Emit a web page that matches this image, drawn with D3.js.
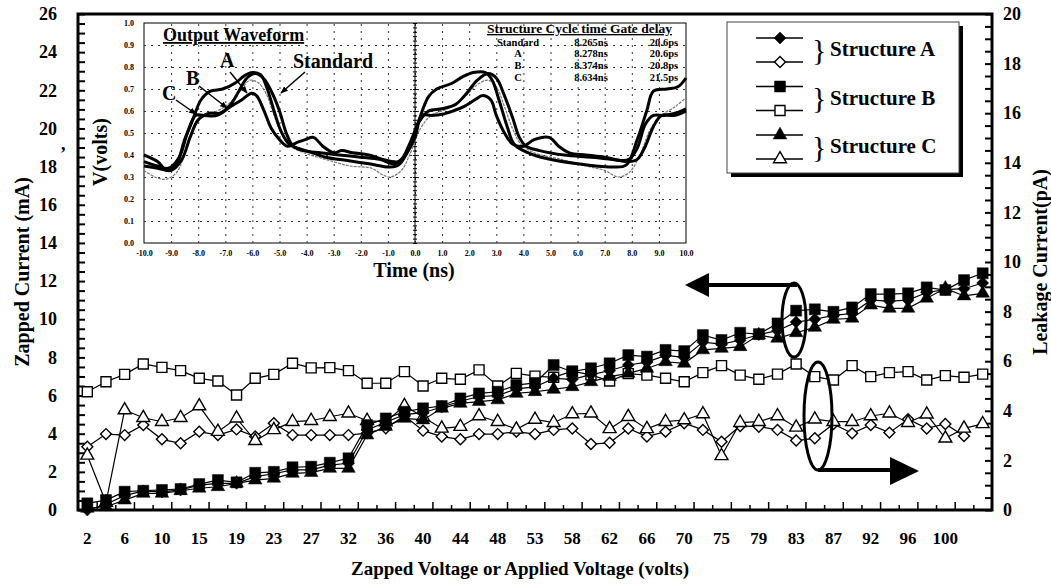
<!DOCTYPE html>
<html>
<head>
<meta charset="utf-8">
<script src="https://cdn.jsdelivr.net/npm/d3@7"></script>
<style>
  body { margin: 0; background: #fff; }
  text { font-family: "Liberation Serif", "Times New Roman", serif; font-weight: bold; fill: #000; }
</style>
</head>
<body>
<div id="chart"></div>
<script>
// categories on the x axis (zapped / applied voltage, volts)
const voltages = [2,4,6,8,10,13,15,17,19,21,23,25,27,30,32,34,36,38,40,42,44,46,48,51,53,56,58,60,62,64,66,68,70,73,75,77,79,81,83,85,87,90,92,94,96,98,100,102,104];
const tickLabels = [2,6,10,15,19,23,27,32,36,40,44,48,53,58,62,66,70,75,79,83,87,92,96,100];

// zapped current (mA) - filled markers, left axis
const zappedA = [0.0,0.3,0.75,1.0,0.95,1.05,1.3,1.4,1.4,1.75,1.9,2.1,2.1,2.35,2.45,4.2,4.6,5.0,5.1,5.4,5.7,5.95,6.0,6.35,6.45,6.9,6.85,7.1,7.3,7.6,7.75,8.1,8.0,8.8,8.7,8.9,9.2,9.4,9.85,10.0,10.2,10.3,11.0,10.95,11.0,11.4,11.55,11.6,11.9];
const zappedB = [0.35,0.52,0.96,1.01,1.05,1.1,1.36,1.57,1.45,1.95,2.0,2.24,2.27,2.48,2.71,4.45,4.8,5.15,5.33,5.45,5.85,6.11,6.2,6.55,6.66,7.6,7.25,7.43,7.69,8.12,8.04,8.39,8.33,9.17,8.91,9.29,9.22,9.78,10.45,10.52,10.39,10.62,11.32,11.32,11.36,11.67,11.53,12.05,12.41];
const zappedC = [0.09,0.17,0.52,0.87,0.87,1.01,1.14,1.22,1.4,1.57,1.66,1.92,1.96,2.18,2.18,3.93,4.37,4.8,4.72,5.33,5.59,5.68,5.77,6.11,6.2,6.32,6.46,6.72,6.99,7.16,7.42,7.77,7.69,8.39,8.47,8.56,9.17,9.0,9.29,9.57,9.99,10.05,10.74,10.57,10.57,11.1,11.62,11.22,11.36];

// leakage current (pA) - open markers, right axis
const leakA = [2.55,3.06,3.02,3.43,2.85,2.69,3.16,3.02,3.25,2.96,3.5,3.02,3.02,3.02,3.02,3.1,3.3,3.8,3.2,2.96,2.85,3.06,3.06,3.16,3.06,3.23,3.29,2.66,2.71,3.29,2.96,3.16,3.5,3.23,2.75,3.39,3.36,3.23,2.8,2.89,3.47,3.09,3.43,3.12,3.66,3.29,3.47,2.98,null];
const leakB = [4.77,5.17,5.47,5.89,5.75,5.62,5.31,5.2,4.64,5.31,5.47,5.92,5.73,5.74,5.62,5.11,5.11,5.58,5.0,5.31,5.27,5.65,5.0,5.51,5.4,5.35,5.6,5.45,5.2,5.5,5.44,5.31,5.17,5.54,5.82,5.44,5.27,5.48,5.89,5.38,5.24,5.82,5.38,5.54,5.58,5.24,5.42,5.35,5.48];
const leakC = [2.2,0.3,4.03,3.72,3.56,3.72,4.19,3.16,3.7,2.79,3.23,3.56,3.6,3.76,3.9,3.6,3.55,4.2,3.75,3.29,3.36,3.79,3.56,3.25,3.65,3.52,3.87,3.9,3.27,3.76,3.27,3.56,3.63,3.87,2.18,3.52,3.56,3.79,3.33,3.66,3.56,3.56,3.79,3.9,3.52,3.86,2.89,3.29,3.47];

const legendLabels = ["Structure A", "Structure B", "Structure C"];

// inset: output waveform, [time ns, volts]
const waveA = [[-10,0.40],[-9.5,0.37],[-9.15,0.33],[-8.8,0.36],[-8.5,0.47],[-8.2,0.56],[-7.9,0.65],[-7.55,0.69],[-7.1,0.70],[-6.6,0.73],[-6.3,0.76],[-6.0,0.775],[-5.7,0.765],[-5.45,0.70],[-5.2,0.60],[-4.95,0.51],[-4.65,0.45],[-4.3,0.43],[-3.9,0.415],[-3.3,0.39],[-2.5,0.375],[-1.7,0.36],[-0.9,0.345],[-0.6,0.355],[-0.25,0.42],[0.15,0.56],[0.5,0.665],[0.8,0.70],[1.35,0.725],[1.75,0.755],[2.15,0.775],[2.6,0.775],[2.85,0.74],[3.1,0.65],[3.4,0.53],[3.65,0.45],[4.0,0.42],[4.65,0.39],[6.0,0.36],[7.3,0.345],[7.8,0.355],[8.2,0.47],[8.55,0.60],[8.8,0.69],[9.3,0.70],[9.7,0.71],[10,0.75]];
const waveB = [[-10,0.37],[-9.5,0.35],[-9.1,0.34],[-8.7,0.39],[-8.4,0.50],[-8.1,0.58],[-7.8,0.58],[-7.3,0.58],[-6.8,0.62],[-6.4,0.65],[-6.05,0.68],[-5.85,0.67],[-5.6,0.61],[-5.3,0.52],[-5.0,0.47],[-4.7,0.44],[-4.3,0.46],[-4.05,0.47],[-3.75,0.48],[-3.4,0.44],[-3.0,0.41],[-2.7,0.42],[-2.3,0.41],[-1.7,0.40],[-1.2,0.38],[-0.6,0.37],[-0.3,0.41],[0.0,0.48],[0.25,0.58],[0.6,0.58],[1.0,0.585],[1.4,0.60],[1.8,0.62],[2.2,0.65],[2.5,0.67],[2.8,0.65],[3.0,0.58],[3.3,0.50],[3.6,0.45],[4.0,0.44],[4.4,0.47],[4.95,0.48],[5.3,0.44],[5.7,0.41],[6.3,0.40],[7.0,0.39],[7.6,0.375],[7.9,0.38],[8.2,0.43],[8.5,0.54],[8.8,0.58],[9.2,0.58],[9.6,0.59],[10,0.61]];
const waveStd = [[-10,0.35],[-9.5,0.34],[-9.0,0.33],[-8.6,0.38],[-8.3,0.48],[-8.0,0.56],[-7.6,0.59],[-7.2,0.59],[-6.8,0.63],[-6.5,0.69],[-6.2,0.75],[-5.9,0.77],[-5.6,0.75],[-5.3,0.69],[-5.0,0.60],[-4.75,0.50],[-4.5,0.44],[-4.1,0.42],[-3.5,0.41],[-2.8,0.40],[-2.0,0.39],[-1.3,0.38],[-0.8,0.36],[-0.5,0.38],[-0.2,0.45],[0.15,0.55],[0.5,0.60],[1.0,0.61],[1.5,0.63],[1.9,0.68],[2.3,0.74],[2.7,0.77],[3.0,0.75],[3.3,0.67],[3.6,0.57],[3.85,0.48],[4.1,0.44],[4.6,0.42],[5.5,0.40],[6.5,0.39],[7.3,0.38],[7.9,0.37],[8.2,0.38],[8.5,0.44],[8.8,0.53],[9.1,0.58],[9.6,0.58],[10,0.60]];
const waveC = [[-10,0.33],[-9.6,0.30],[-9.2,0.29],[-8.8,0.32],[-8.4,0.44],[-8.1,0.53],[-7.8,0.58],[-7.3,0.60],[-6.8,0.64],[-6.4,0.70],[-6.1,0.74],[-5.8,0.73],[-5.5,0.68],[-5.2,0.58],[-4.9,0.49],[-4.6,0.44],[-4.1,0.41],[-3.3,0.38],[-2.4,0.35],[-1.6,0.34],[-1.2,0.31],[-0.9,0.30],[-0.5,0.33],[-0.2,0.40],[0.2,0.52],[0.6,0.58],[1.2,0.61],[1.8,0.66],[2.3,0.72],[2.7,0.74],[3.0,0.71],[3.3,0.62],[3.6,0.52],[3.9,0.45],[4.4,0.41],[5.4,0.38],[6.3,0.35],[7.0,0.33],[7.5,0.30],[7.9,0.32],[8.3,0.40],[8.7,0.52],[9.1,0.58],[9.6,0.62],[10,0.66]];

const tableHeader = "Structure Cycle time Gate delay";
const tableRows = [["Standard","8.265ns","20.6ps"],["A","8.278ns","20.6ps"],["B","8.374ns","20.8ps"],["C","8.634ns","21.5ps"]];

// size of the page and margins of the main plot
const W = 1051, H = 585;
const margin = {top: 14, right: 59, bottom: 75, left: 78},
    width = W - margin.left - margin.right,
    height = H - margin.top - margin.bottom;

const svg = d3.select("#chart").append("svg")
    .attr("width", W)
    .attr("height", H);

svg.append("defs").append("marker")
    .attr("id", "head")
    .attr("viewBox", "0 0 10 10")
    .attr("refX", 9).attr("refY", 5)
    .attr("markerWidth", 5).attr("markerHeight", 5)
    .attr("orient", "auto")
  .append("path")
    .attr("d", "M0,1 L10,5 L0,9 z")
    .attr("fill", "#000");

const g = svg.append("g")
    .attr("transform", "translate(" + margin.left + "," + margin.top + ")");

// scales
const x = d3.scaleBand().domain(voltages).range([0, width]);
const xIdx = d3.scaleLinear().domain([0, voltages.length]).range([0, width]);
const yLeft = d3.scaleLinear().domain([0, 26]).range([height, 0]);
const yRight = d3.scaleLinear().domain([0, 20]).range([height, 0]);
const cx = v => x(v) + x.bandwidth() / 2;

// inner ticks
g.append("g")
    .call(d3.axisLeft(yLeft).tickValues(d3.range(0, 26.01, 0.5)).tickSize(-7).tickFormat(""))
    .call(s => s.select(".domain").remove())
    .selectAll("line").attr("stroke-width", 2);

g.append("g")
    .attr("transform", `translate(${width},0)`)
    .call(d3.axisRight(yRight).tickValues(d3.range(0, 20.01, 0.5)).tickSize(-7).tickFormat(""))
    .call(s => s.select(".domain").remove())
    .selectAll("line").attr("stroke-width", 2);

g.append("g")
    .attr("transform", `translate(0,${height})`)
    .call(d3.axisBottom(xIdx).tickValues(d3.range(1, voltages.length)).tickSize(-5).tickFormat(""))
    .call(s => s.select(".domain").remove())
    .selectAll("line")
      .attr("stroke-width", 1.5)
      .attr("y2", (d) => d % 2 === 1 ? -8 : -5);

// tick labels
g.append("g")
    .call(d3.axisLeft(yLeft).tickValues(d3.range(0, 27, 2)).tickSize(0).tickPadding(21))
    .call(s => s.select(".domain").remove())
    .selectAll("text").style("font-size", "18px");

g.append("g")
    .attr("transform", `translate(${width},0)`)
    .call(d3.axisRight(yRight).tickValues(d3.range(0, 21, 2)).tickSize(0).tickPadding(11))
    .call(s => s.select(".domain").remove())
    .selectAll("text").style("font-size", "18px");

g.append("g")
    .attr("transform", `translate(0,${height})`)
    .call(d3.axisBottom(x).tickValues(tickLabels).tickSize(0).tickPadding(22))
    .call(s => s.select(".domain").remove())
    .selectAll("text").style("font-size", "17px");

// frame
g.append("rect")
    .attr("width", width).attr("height", height)
    .attr("fill", "none").attr("stroke", "#000").attr("stroke-width", 3);

// axis titles
svg.append("text")
    .attr("text-anchor", "middle")
    .attr("transform", "translate(22,272) rotate(-90)")
    .attr("dy", "0.35em")
    .style("font-size", "20px")
    .text("Zapped Current (mA)");

svg.append("text")
    .attr("text-anchor", "middle")
    .attr("transform", "translate(1040,262) rotate(-90)")
    .attr("dy", "0.35em")
    .style("font-size", "20px")
    .text("Leakage Current(pA)");

svg.append("text")
    .attr("text-anchor", "middle")
    .attr("x", 520).attr("y", 568)
    .attr("dy", "0.35em")
    .style("font-size", "19px")
    .text("Zapped Voltage or Applied Voltage (volts)");

svg.append("text").attr("x", 61).attr("y", 150).style("font-size", "18px").text(",");

// markers
function symbolPath(shape, filled) {
    if (shape === "diamond") return d3.symbol(d3.symbolSquare, filled ? 72 : 60)();
    if (shape === "square") return d3.symbol(d3.symbolSquare, filled ? 121 : 100)();
    return d3.symbol(d3.symbolTriangle, filled ? 80 : 72)();
}

function drawSeries(values, yScale, shape, filled) {
    const pts = voltages.map((v, i) => ({v: v, y: values[i]})).filter(d => d.y != null);
    g.append("path")
        .datum(pts)
        .attr("fill", "none")
        .attr("stroke", "#000")
        .attr("stroke-width", 1.2)
        .attr("d", d3.line().x(d => cx(d.v)).y(d => yScale(d.y)));
    g.append("g")
        .selectAll("path")
        .data(pts)
        .enter()
        .append("path")
          .attr("transform", d => `translate(${cx(d.v)},${yScale(d.y)})` + (shape === "diamond" ? " rotate(45)" : ""))
          .attr("d", symbolPath(shape, filled))
          .attr("fill", filled ? "#000" : "#fff")
          .attr("stroke", "#000")
          .attr("stroke-width", filled ? 0.5 : 1.4);
}

drawSeries(leakB, yRight, "square", false);
drawSeries(leakA, yRight, "diamond", false);
drawSeries(leakC, yRight, "triangle", false);
drawSeries(zappedA, yLeft, "diamond", true);
drawSeries(zappedB, yLeft, "square", true);
drawSeries(zappedC, yLeft, "triangle", true);

// annotations: ellipses and arrows
svg.append("ellipse").attr("cx", 794).attr("cy", 320).attr("rx", 12).attr("ry", 37)
    .attr("fill", "none").attr("stroke", "#000").attr("stroke-width", 3);
svg.append("line").attr("x1", 797).attr("y1", 285).attr("x2", 704).attr("y2", 285)
    .attr("stroke", "#000").attr("stroke-width", 4);
svg.append("path").attr("d", "M685,285 L709,273 L709,297 Z").attr("fill", "#000");

svg.append("ellipse").attr("cx", 818).attr("cy", 416).attr("rx", 14).attr("ry", 54)
    .attr("fill", "none").attr("stroke", "#000").attr("stroke-width", 3);
svg.append("line").attr("x1", 818).attr("y1", 470).attr("x2", 893).attr("y2", 470)
    .attr("stroke", "#000").attr("stroke-width", 4);
svg.append("path").attr("d", "M919,471 L890,457 L890,485 Z").attr("fill", "#000");

// legend
const lg = svg.append("g");
lg.append("rect").attr("x", 731).attr("y", 26).attr("width", 232).attr("height", 151).attr("fill", "#000");
lg.append("rect").attr("x", 727).attr("y", 22).attr("width", 232).attr("height", 151)
    .attr("fill", "#fff").attr("stroke", "#444").attr("stroke-width", 1);
const legendShapes = ["diamond", "square", "triangle"];
legendLabels.forEach((label, k) => {
    [true, false].forEach((filled, j) => {
        const yy = 38 + k * 48.5 + j * 24;
        lg.append("line").attr("x1", 756).attr("x2", 803).attr("y1", yy).attr("y2", yy)
            .attr("stroke", "#000").attr("stroke-width", 1.4);
        lg.append("path")
            .attr("transform", `translate(780,${yy})` + (legendShapes[k] === "diamond" ? " rotate(45)" : ""))
            .attr("d", symbolPath(legendShapes[k], filled))
            .attr("fill", filled ? "#000" : "#fff")
            .attr("stroke", "#000").attr("stroke-width", filled ? 0.5 : 1.4);
    });
    lg.append("text").attr("x", 812).attr("y", 50 + k * 48.5).attr("dy", "0.33em")
        .style("font-size", "30px").style("font-weight", "normal").text("}");
    lg.append("text").attr("x", 830).attr("y", 49 + k * 48.5).attr("dy", "0.35em")
        .style("font-size", "21px").text(label);
});

// inset: output waveform
const ix = d3.scaleLinear().domain([-10, 10]).range([144, 686]);
const iy = d3.scaleLinear().domain([0, 1]).range([243, 23]);
const ins = svg.append("g");

ins.append("rect").attr("x", 144).attr("y", 23).attr("width", 542).attr("height", 220)
    .attr("fill", "#fff").attr("stroke", "#000").attr("stroke-width", 1);

ins.append("g")
    .attr("transform", "translate(0,243)")
    .call(d3.axisBottom(ix).tickValues(d3.range(-9, 10, 1)).tickSize(-220).tickFormat(""))
    .call(s => s.select(".domain").remove())
    .selectAll("line").attr("stroke", "#333").attr("stroke-dasharray", "2,5");

ins.append("g")
    .attr("transform", "translate(144,0)")
    .call(d3.axisLeft(iy).tickValues(d3.range(0.1, 0.95, 0.1)).tickSize(-542).tickFormat(""))
    .call(s => s.select(".domain").remove())
    .selectAll("line").attr("stroke", "#333").attr("stroke-dasharray", "2,5");

// center axis with small ticks
ins.append("line").attr("x1", ix(0)).attr("x2", ix(0)).attr("y1", 23).attr("y2", 243)
    .attr("stroke", "#000").attr("stroke-width", 1);
ins.append("g")
    .attr("transform", `translate(${ix(0)},0)`)
    .call(d3.axisRight(iy).tickValues(d3.range(0, 1.001, 0.02)).tickSize(2).tickFormat(""))
    .call(s => s.select(".domain").remove());
ins.append("g")
    .attr("transform", `translate(${ix(0)},0)`)
    .call(d3.axisLeft(iy).tickValues(d3.range(0, 1.001, 0.02)).tickSize(2).tickFormat(""))
    .call(s => s.select(".domain").remove());

ins.append("g")
    .attr("transform", "translate(0,243)")
    .call(d3.axisBottom(ix).tickValues(d3.range(-10, 10.1, 1)).tickSize(0).tickPadding(7).tickFormat(d => d.toFixed(1)))
    .call(s => s.select(".domain").remove())
    .selectAll("text").style("font-size", "8px");

ins.append("g")
    .attr("transform", "translate(144,0)")
    .call(d3.axisLeft(iy).tickValues(d3.range(0, 1.01, 0.1)).tickSize(0).tickPadding(10).tickFormat(d => d.toFixed(1)))
    .call(s => s.select(".domain").remove())
    .selectAll("text").style("font-size", "8px");

const wline = d3.line().x(d => ix(d[0])).y(d => iy(d[1])).curve(d3.curveCatmullRom);
ins.append("path").datum(waveC).attr("d", wline).attr("fill", "none")
    .attr("stroke", "#777").attr("stroke-width", 1.2).attr("stroke-dasharray", "3,1");
[waveStd, waveB, waveA].forEach(w => {
    ins.append("path").datum(w).attr("d", wline).attr("fill", "none")
        .attr("stroke", "#000").attr("stroke-width", 3);
});

ins.append("text").attr("x", 414).attr("y", 270).attr("text-anchor", "middle").attr("dy", "0.35em")
    .style("font-size", "20px").text("Time (ns)");
ins.append("text").attr("text-anchor", "middle").attr("transform", "translate(100,152) rotate(-90)")
    .attr("dy", "0.35em").style("font-size", "20px").text("V(volts)");

ins.append("text").attr("x", 163).attr("y", 41).style("font-size", "18px")
    .style("text-decoration", "underline").text("Output Waveform");

// curve labels with arrows
const callouts = [
    {t: "Standard", x: 293, y: 68, from: [305, 72], to: [281, 93]},
    {t: "A", x: 220, y: 67, from: [230, 72], to: [247, 93]},
    {t: "B", x: 186, y: 85, from: [199, 86], to: [227, 108]},
    {t: "C", x: 162, y: 100, from: [176, 100], to: [196, 114]}
];
callouts.forEach(c => {
    ins.append("text").attr("x", c.x).attr("y", c.y).style("font-size", "20px").text(c.t);
    ins.append("line").attr("x1", c.from[0]).attr("y1", c.from[1]).attr("x2", c.to[0]).attr("y2", c.to[1])
        .attr("stroke", "#000").attr("stroke-width", 1.5).attr("marker-end", "url(#head)");
});

// table of cycle time / gate delay
ins.append("text").attr("x", 487).attr("y", 33).style("font-size", "13.5px")
    .style("text-decoration", "underline").text(tableHeader);
const colX = [518, 591, 664];
const rowY = [45.5, 57, 68.5, 81];
tableRows.forEach((row, r) => {
    row.forEach((cell, c) => {
        ins.append("text").attr("x", colX[c]).attr("y", rowY[r])
            .attr("text-anchor", "middle").style("font-size", "10.5px").text(cell);
    });
});
</script>
</body>
</html>
